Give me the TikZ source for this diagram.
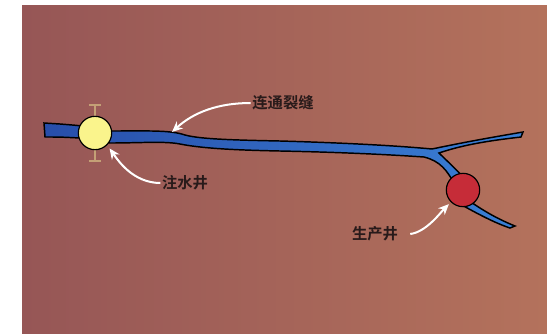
\documentclass[tikz,border=0pt]{standalone}
\usepackage{fontspec}
\newfontfamily\cjk{Noto Sans CJK SC}[BoldFont={* Bold}]
\usepackage{xcolor}
\usetikzlibrary{arrows.meta,positioning}

\definecolor{rockA}{RGB}{150,86,86}
\definecolor{rockB}{RGB}{180,114,92}
\definecolor{crackA}{RGB}{40,78,170}
\definecolor{crackB}{RGB}{58,128,214}
\definecolor{injfill}{RGB}{250,244,140}
\definecolor{prodfill}{RGB}{198,44,56}
\definecolor{inktext}{RGB}{40,26,26}
\definecolor{barcol}{RGB}{196,160,118}

\begin{document}
\begin{tikzpicture}[
    x=0.75pt, y=-0.75pt,
    well/.style={circle, draw=black, line width=0.9pt, minimum size=25pt, inner sep=0pt, fill=#1},
    tag/.style={font=\cjk\bfseries\fontsize{11.5}{12}\selectfont, text=inktext, inner sep=1pt},
    pointer/.style={draw=white, line width=1.5pt, -{Stealth[length=8pt,width=7pt]}}
]
    \useasboundingbox (0,0) rectangle (547,333);
    % rock background
    \fill[white] (0,0) rectangle (547,333);
    \shade[left color=rockA, right color=rockB] (22,5) rectangle (547,333);

    % fracture with its two branches
    \draw[line width=1.1pt, left color=crackA, right color=crackB]
        (44,123) -- (60,124) .. controls (85,126) .. (110,131)
        .. controls (150,131) and (170,130) .. (185,135)
        .. controls (200,139) and (230,140) .. (280,141)
        .. controls (350,143) and (400,146) .. (432,149)
        .. controls (470,141) and (500,136) .. (523,132)
        -- (521,137)
        .. controls (495,140) and (465,144) .. (439,153)
        .. controls (446,160) and (455,168) .. (462,176)
        -- (468,200)
        .. controls (485,212) and (500,220) .. (515,226)
        -- (510,228)
        .. controls (495,223) and (478,214) .. (460,204)
        -- (455,185)
        .. controls (447,170) and (440,161) .. (424,157)
        .. controls (380,154) and (330,152) .. (280,151)
        .. controls (230,150) and (200,148) .. (180,144)
        .. controls (165,141) and (140,143) .. (110,143)
        -- (80,138) .. controls (60,137) .. (45,137) -- cycle;

    % injection well with its I-bar
    \draw[barcol, line width=0.9pt] (95,105) -- (95,161)
        (89,105) -- (101,105) (89,161) -- (101,161);
    \node[well=injfill] (inj) at (95,133) {};
    \node[well=prodfill] (prod) at (463,190) {};
    \coordinate (crack) at (172,132);

    % labels
    \node[tag] (crackl) at (283,103) {连通裂缝};
    \node[tag] (injl) at (185,183) {注水井};
    \node[tag] (prodl) at (375,234) {生产井};

    % pointers
    \draw[pointer] (crackl.west) .. controls +(-32,0) and +(22,-20) .. (crack);
    \draw[pointer, shorten >=3pt] (injl.west) .. controls +(-28,0) and +(10,14) .. (inj.-45);
    \draw[pointer, shorten >=2pt] ([xshift=8pt]prodl.east) .. controls +(16,-2) and +(-10,10) .. (prod.-135);
\end{tikzpicture}
\end{document}
